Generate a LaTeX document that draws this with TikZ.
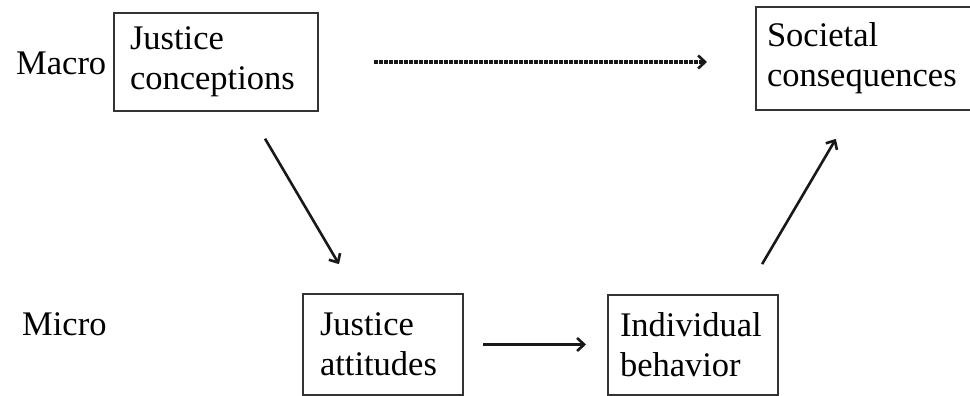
\documentclass[tikz,border=0pt]{standalone}
\usepackage{fontspec}
\setmainfont{Liberation Serif}
\usetikzlibrary{arrows.meta,calc}
\begin{document}
\begin{tikzpicture}[x=1pt,y=-1pt,
  every node/.style={font=\fontsize{34.5}{40}\selectfont, text=black},
  box/.style={draw=black!80, line width=2pt, rectangle, align=left, inner ysep=0pt, anchor=center},
  lbl/.style={anchor=base west, inner sep=0pt},
  link/.style={draw=black!90, line width=2.6pt, -{Straight Barb[length=7pt,width=13pt,line width=2.6pt]}},
  dlink/.style={link, line width=3.2pt, dash pattern=on 3.5pt off 1.5pt}]
\clip (0,0) rectangle (970,396);
\useasboundingbox (0,0) rectangle (970,396);
\fill[white] (0,0) rectangle (970,396);
\node[lbl] (macro) at (16,75) {Macro};
\node[lbl] (micro) at (22,335) {Micro};
\node[box, inner xsep=16pt, text width=172pt, minimum height=98pt] (jc) at (216,62) {Justice\\conceptions};
\node[box, inner xsep=11pt, text width=197pt, minimum height=103pt] (sc) at (865.5,58.5) {Societal\\consequences};
\node[box, inner xsep=17pt, text width=126pt, minimum height=101pt] (ja) at (383,344.5) {Justice\\attitudes};
\node[box, inner xsep=12pt, text width=146pt, minimum height=100pt] (ib) at (693,345) {Individual\\behavior};
\draw[dlink, shorten <=55pt, shorten >=48pt] (jc.east) -- (jc.east -| sc.west);
\draw[link, shorten <=31pt, shorten >=33.5pt] ($(jc.south west)+(136.3,0)$) -- ($(ja.north west)+(54,0)$);
\draw[link, shorten <=34.7pt, shorten >=32.4pt] ($(ib.north west)+(137.5,0)$) -- ($(sc.south west)+(97.3,0)$);
\draw[link, shorten <=19pt, shorten >=21pt] (ja.east) -- (ja.east -| ib.west);
\end{tikzpicture}
\end{document}
